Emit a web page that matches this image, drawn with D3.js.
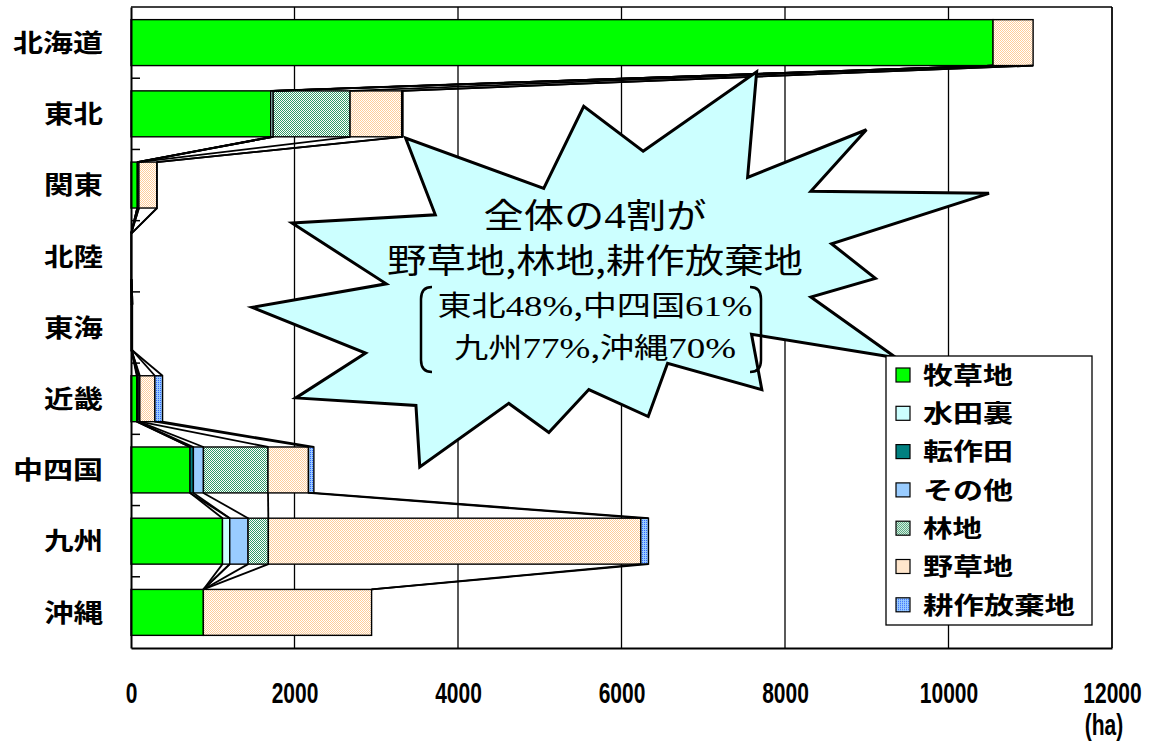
<!DOCTYPE html>
<html>
<head>
<meta charset="utf-8">
<script src="https://cdn.jsdelivr.net/npm/d3@7"></script>
<style>
  body { margin: 0; background: #ffffff; }
  svg { display: block; }
</style>
</head>
<body>
<svg id="chart" width="1154" height="748"></svg>
<script>
// Regions (top to bottom) and land-use categories (stack order, left to right)
const regions = ["北海道", "東北", "関東", "北陸", "東海", "近畿", "中四国", "九州", "沖縄"];
const seriesNames = ["牧草地", "水田裏", "転作田", "その他", "林地", "野草地", "耕作放棄地"];

// Area per region (ha)
const pasture        = [10545, 1709, 77, 3, 8, 70, 722, 1119, 885];
const paddyBack      = [0, 30, 0, 0, 0, 8, 0, 89, 0];
const convertedPaddy = [0, 0, 0, 0, 0, 0, 41, 0, 0];
const otherLand      = [0, 0, 20, 0, 0, 20, 123, 224, 0];
const forest         = [0, 941, 0, 0, 0, 10, 790, 248, 0];
const wildGrass      = [490, 631, 218, 4, 10, 184, 495, 4556, 2058];
const abandoned      = [0, 16, 5, 0, 0, 94, 66, 94, 0];

const xTicks = [0, 2000, 4000, 6000, 8000, 10000, 12000];
const unitLabel = "(ha)";

// Callout text lines: [text, font] segments
const calloutLine1 = [["全体の", "cjk"], ["4", "serif"], ["割が", "cjk"]];
const calloutLine2 = [["野草地,林地,耕作放棄地", "cjk"]];
const calloutLine3 = [["東北", "cjk"], ["48%", "serif"], [",中四国", "cjk"], ["61%", "serif"]];
const calloutLine4 = [["九州", "cjk"], ["77%", "serif"], [",沖縄", "cjk"], ["70%", "serif"]];

// Explosion outline in a 21600 x 21600 unit box
const explosionOutline = [
  [11462, 4342], [14790, 0], [14525, 5777], [18007, 3172], [16380, 6532],
  [21600, 6645], [16985, 9402], [18270, 11290], [16380, 12310], [18877, 15632],
  [14640, 14350], [14942, 17370], [12180, 15935], [11612, 18842], [9872, 17370],
  [8700, 19712], [7527, 18125], [4917, 21600], [4805, 18240], [1285, 17825],
  [3330, 15370], [0, 12877], [3935, 11592], [1172, 8270], [5372, 7817],
  [4502, 3625], [8550, 6382], [9722, 1887]
];

// ---------------------------------------------------------------
const seriesValues = [pasture, paddyBack, convertedPaddy, otherLand, forest, wildGrass, abandoned];
const table = regions.map((r, i) => {
  const row = { region: r };
  seriesNames.forEach((s, k) => { row[s] = seriesValues[k][i]; });
  return row;
});

const svg = d3.select("#chart");
const CJK = "'Noto Sans CJK JP', 'Noto Sans CJK SC', sans-serif";
const plot = { left: 131, right: 1112, top: 7, bottom: 648 };

const x = d3.scaleLinear().domain([0, 12000]).range([plot.left, plot.right]);
const y = d3.scaleBand().domain(regions).range([plot.top, plot.bottom])
  .paddingInner(0.355).paddingOuter(0.1775);

// Fill patterns
const defs = svg.append("defs");
function checker(id, bg, fg, allFour) {
  const p = defs.append("pattern").attr("id", id)
    .attr("patternUnits", "userSpaceOnUse").attr("width", 2).attr("height", 2);
  p.append("rect").attr("width", 2).attr("height", 2).attr("fill", bg);
  p.append("rect").attr("x", 0).attr("y", 0).attr("width", 1).attr("height", 1).attr("fill", fg);
  if (allFour) p.append("rect").attr("x", 1).attr("y", 1).attr("width", 1).attr("height", 1).attr("fill", fg);
}
checker("pForest", "#ffffff", "#339966", true);
checker("pGrass", "#ffffff", "#ffcc99", true);
checker("pAband", "#99ccff", "#3366ff", false);

const fills = ["#00ff00", "#ccffff", "#008080", "#99ccff", "url(#pForest)", "url(#pGrass)", "url(#pAband)"];
const color = d3.scaleOrdinal().domain(seriesNames).range(fills);

// Vertical gridlines
svg.append("g").selectAll("line")
  .data(xTicks.slice(1))
  .join("line")
  .attr("x1", d => x(d)).attr("x2", d => x(d))
  .attr("y1", plot.top).attr("y2", plot.bottom)
  .attr("stroke", "#000").attr("stroke-width", 1.3);

// Plot-area top edge
svg.append("line")
  .attr("x1", plot.left).attr("x2", plot.right)
  .attr("y1", plot.top).attr("y2", plot.top)
  .attr("stroke", "#000").attr("stroke-width", 1.3);

// Stacked bars
const stacked = d3.stack().keys(seriesNames)(table);
const bh = y.bandwidth();

svg.append("g").selectAll("g")
  .data(stacked)
  .join("g")
  .attr("fill", d => color(d.key))
  .selectAll("rect")
  .data(d => d)
  .join("rect")
  .attr("x", d => x(d[0]))
  .attr("y", d => y(d.data.region))
  .attr("width", d => Math.max(0, x(d[1]) - x(d[0])))
  .attr("height", bh)
  .attr("stroke", "#000")
  .attr("stroke-width", 1.4);

// Series lines joining each category's end between neighbouring bars
const seriesLines = [];
stacked.forEach(s => {
  for (let i = 0; i < regions.length - 1; i++) {
    seriesLines.push({
      x1: x(s[i][1]), y1: y(regions[i]) + bh,
      x2: x(s[i + 1][1]), y2: y(regions[i + 1])
    });
  }
});
svg.append("g").selectAll("line")
  .data(seriesLines)
  .join("line")
  .attr("x1", d => d.x1).attr("y1", d => d.y1)
  .attr("x2", d => d.x2).attr("y2", d => d.y2)
  .attr("stroke", "#000").attr("stroke-width", 1.8);

// Category axis
const yAxis = svg.append("g")
  .attr("transform", `translate(${plot.left},0)`)
  .call(d3.axisLeft(y).tickSizeInner(0).tickSizeOuter(0).tickPadding(28));
yAxis.select(".domain").attr("stroke", "#000").attr("stroke-width", 2);
yAxis.selectAll("text")
  .attr("font-family", CJK)
  .attr("font-weight", "bold")
  .attr("font-size", 25)
  .attr("fill", "#000")
  .attr("dy", "0.37em")
  .attr("textLength", d => d.length * 31 - 3)
  .attr("lengthAdjust", "spacingAndGlyphs");

// Category boundary ticks (inside)
const half = y.step() * y.paddingInner() / 2;
svg.append("g").selectAll("line")
  .data(regions.slice(1))
  .join("line")
  .attr("x1", plot.left).attr("x2", plot.left + 9)
  .attr("y1", d => y(d) - half).attr("y2", d => y(d) - half)
  .attr("stroke", "#000").attr("stroke-width", 1.5);

// Value axis
const xAxis = svg.append("g")
  .attr("transform", `translate(0,${plot.bottom})`)
  .call(d3.axisBottom(x).tickValues(xTicks).tickFormat(d3.format("d"))
    .tickSizeInner(0).tickSizeOuter(0).tickPadding(0));
xAxis.select(".domain").attr("stroke", "#000").attr("stroke-width", 2);
xAxis.selectAll("text")
  .attr("font-family", "'Liberation Sans', Arial, sans-serif")
  .attr("font-weight", "bold")
  .attr("font-size", 21)
  .attr("fill", "#000")
  .attr("dy", null)
  .attr("y", 55 / 1.4)
  .attr("transform", "scale(1,1.4)");

// Right edge of the plot area
svg.append("line")
  .attr("x1", plot.right).attr("x2", plot.right)
  .attr("y1", plot.top).attr("y2", plot.bottom)
  .attr("stroke", "#000").attr("stroke-width", 1.3);

svg.append("text")
  .attr("x", 1104).attr("y", 735 / 1.4)
  .attr("transform", "scale(1,1.4)")
  .attr("text-anchor", "middle")
  .attr("font-family", "'Liberation Sans', Arial, sans-serif")
  .attr("font-weight", "bold")
  .attr("font-size", 21)
  .text(unitLabel);

// Explosion callout
const ex = d3.scaleLinear().domain([0, 21600]).range([252, 989]);
const ey = d3.scaleLinear().domain([0, 21600]).range([71.7, 467]);
svg.append("path")
  .attr("d", d3.line().x(d => ex(d[0])).y(d => ey(d[1]))(explosionOutline) + "Z")
  .attr("fill", "#ccffff")
  .attr("stroke", "#000")
  .attr("stroke-width", 3)
  .attr("stroke-linejoin", "miter");

function calloutText(segments, baseline, size, width) {
  const t = svg.append("text")
    .attr("x", 595).attr("y", baseline)
    .attr("text-anchor", "middle")
    .attr("font-size", size)
    .attr("fill", "#000")
    .attr("textLength", width)
    .attr("lengthAdjust", "spacingAndGlyphs");
  segments.forEach(([s, f]) => {
    t.append("tspan")
      .attr("font-family", f === "serif" ? "'Liberation Serif', 'Times New Roman', serif" : CJK)
      .attr("font-size", f === "serif" ? size * 1.08 : size)
      .text(s);
  });
}
calloutText(calloutLine1, 228, 34, 223);
calloutText(calloutLine2, 272.5, 34, 416);
calloutText(calloutLine3, 316, 28, 315);
calloutText(calloutLine4, 358, 28, 282);

// Bracket pair around the regional shares
svg.append("path")
  .attr("d", "M432,287 Q421,287 421,299 L421,360 Q421,372 432,372")
  .attr("fill", "none").attr("stroke", "#000").attr("stroke-width", 2.5);
svg.append("path")
  .attr("d", "M750,287 Q761,287 761,299 L761,360 Q761,372 750,372")
  .attr("fill", "none").attr("stroke", "#000").attr("stroke-width", 2.5);

// Legend
const legend = svg.append("g");
legend.append("rect")
  .attr("x", 886).attr("y", 356).attr("width", 206).attr("height", 269)
  .attr("fill", "#fff").attr("stroke", "#000").attr("stroke-width", 1.3);
const items = legend.selectAll("g.item")
  .data(seriesNames)
  .join("g")
  .attr("class", "item")
  .attr("transform", (d, i) => `translate(0,${375 + i * 38.3})`);
items.append("rect")
  .attr("x", 896).attr("y", -7).attr("width", 14).attr("height", 14)
  .attr("fill", d => color(d))
  .attr("stroke", "#000").attr("stroke-width", 1.2);
items.append("text")
  .attr("x", 923).attr("y", 0).attr("dy", "0.37em")
  .attr("font-family", CJK)
  .attr("font-weight", "bold")
  .attr("font-size", 24)
  .attr("textLength", d => d.length * 31 - 3)
  .attr("lengthAdjust", "spacingAndGlyphs")
  .text(d => d);
</script>
</body>
</html>
